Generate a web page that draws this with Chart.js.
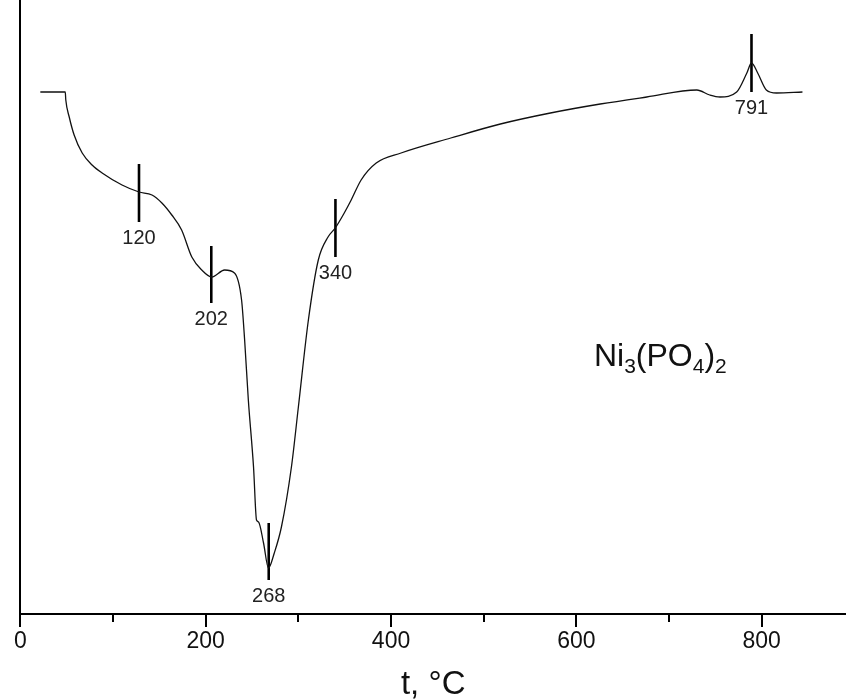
<!DOCTYPE html>
<html>
<head>
<meta charset="utf-8">
<script src="https://cdn.jsdelivr.net/npm/chart.js@4"></script>
<style>
  html, body { margin: 0; padding: 0; background: #fff; }
  #wrap { width: 846px; height: 699px; position: relative; }
</style>
</head>
<body>
<div id="wrap"><canvas id="c"></canvas></div>
<script>
// DTA curve, temperature (°C) vs signal (arbitrary units)
const temps = [21.5, 48.4, 49, 52.7, 58, 66.7, 77.4, 88.2, 109.7, 128, 142, 152.7, 163.4, 174, 185,
  195.7, 206.5, 220.4, 231, 238.7, 242, 246, 251.6, 254.8, 257, 262.4, 267.7, 274, 281.7, 292.5,
  300, 310.8, 321.5, 332, 339.8, 349.5, 357, 367.7, 384, 410.8, 464.5, 518, 572, 625.8, 676,
  730, 744, 755, 773, 784, 789, 795.7, 805, 816, 844];
const signal = [522, 522, 514, 497, 479, 461, 449, 441, 429, 422, 419, 411, 399, 384, 357,
  344, 337, 344, 341, 314, 274, 214, 147, 94, 92, 71, 46, 61, 87, 147,
  207, 294, 354, 377, 386, 401, 414, 434, 451, 461, 476, 490, 501, 510, 517,
  524, 519, 517, 522, 541, 551, 541, 524, 521, 522];

// peak markers
const markerT = [128, 206, 268, 340, 789];
const markerTop = [450, 368, 91, 415, 580];
const markerBottom = [392, 311, 34, 357, 522];
const markerLabels = ['120', '202', '268', '340', '791'];

const xTicks = [0, 100, 200, 300, 400, 500, 600, 700, 800];

const FONT = '"Liberation Sans", Arial, sans-serif';

const datasets = [{
  data: temps.map((t, i) => ({ x: t, y: signal[i] })),
  borderColor: '#111',
  borderWidth: 1.3,
  pointRadius: 0,
  cubicInterpolationMode: 'monotone',
  fill: false
}];
markerT.forEach((t, i) => {
  datasets.push({
    data: [{ x: t, y: markerTop[i] }, { x: t, y: markerBottom[i] }],
    borderColor: '#000',
    borderWidth: 2.6,
    pointRadius: 0
  });
});

const annotate = {
  id: 'annotate',
  afterDraw(chart) {
    const ctx = chart.ctx;
    const xs = chart.scales.x, ys = chart.scales.y;
    ctx.save();
    // axis ticks (major downward long, minor short)
    ctx.strokeStyle = '#000';
    ctx.lineWidth = 2;
    const base = ys.getPixelForValue(0);
    xTicks.forEach(v => {
      const px = Math.round(xs.getPixelForValue(v));
      const len = v % 200 === 0 ? 13 : 8;
      ctx.beginPath();
      ctx.moveTo(px, base);
      ctx.lineTo(px, base + len);
      ctx.stroke();
    });
    // peak labels
    ctx.fillStyle = '#222';
    ctx.font = '20px ' + FONT;
    ctx.textAlign = 'center';
    ctx.textBaseline = 'top';
    markerT.forEach((t, i) => {
      ctx.fillText(markerLabels[i], xs.getPixelForValue(t), ys.getPixelForValue(markerBottom[i]) + 6);
    });
    // formula
    let x = xs.getPixelForValue(619);
    const y = ys.getPixelForValue(248);
    ctx.fillStyle = '#111';
    ctx.textAlign = 'left';
    ctx.textBaseline = 'alphabetic';
    const parts = [['Ni', 0], ['3', 1], ['(PO', 0], ['4', 1], [')', 0], ['2', 1]];
    parts.forEach(([s, sub]) => {
      ctx.font = (sub ? '21px ' : '32px ') + FONT;
      ctx.fillText(s, x, y + (sub ? 7 : 0));
      x += ctx.measureText(s).width;
    });
    ctx.restore();
  }
};

new Chart(document.getElementById('c'), {
  type: 'line',
  data: { datasets },
  options: {
    responsive: true,
    maintainAspectRatio: false,
    animation: false,
    layout: { padding: 0 },
    plugins: { legend: { display: false }, tooltip: { enabled: false } },
    scales: {
      x: {
        type: 'linear',
        min: 0,
        max: 891,
        afterFit: s => { s.height = 85; },
        afterBuildTicks: s => { s.ticks = xTicks.filter(v => v % 200 === 0).map(v => ({ value: v })); },
        border: { color: '#000', width: 2 },
        grid: { display: false, drawTicks: false },
        ticks: {
          padding: 14,
          color: '#111',
          font: { family: FONT, size: 23 },
          maxRotation: 0
        },
        title: {
          display: true,
          text: 't, °C',
          color: '#111',
          font: { family: FONT, size: 33, lineHeight: 1 },
          padding: { top: 0, bottom: -2 }
        }
      },
      y: {
        min: 0,
        max: 614,
        afterFit: s => { s.width = 18; },
        border: { color: '#000', width: 2 },
        grid: { display: false, drawTicks: false },
        ticks: { display: false }
      }
    }
  },
  plugins: [annotate]
});
</script>
</body>
</html>
